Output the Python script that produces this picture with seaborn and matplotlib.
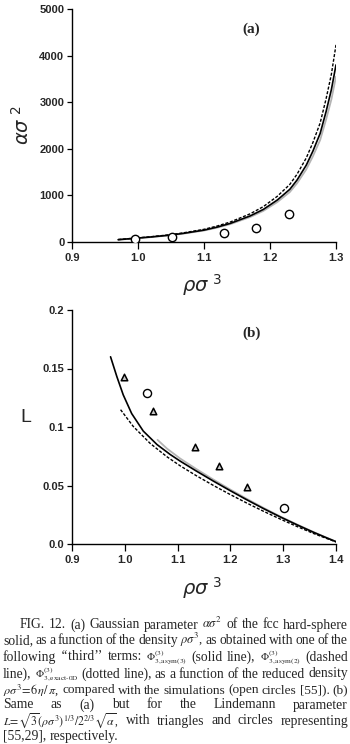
import matplotlib
matplotlib.use("Agg")
import matplotlib.pyplot as plt
import seaborn as sns
import pandas as pd

# ---------------- data: panel (a) ----------------
rho_a = [0.97, 1.0, 1.018, 1.05, 1.069, 1.1, 1.12, 1.14, 1.17, 1.19, 1.211, 1.23, 1.241,
         1.255, 1.265, 1.276, 1.285, 1.293, 1.3]
alpha_solid = [50, 85, 106, 150, 186, 255, 320, 400, 560, 700, 900, 1130, 1330,
               1650, 1950, 2330, 2800, 3270, 3800]
alpha_dashed = [52, 89, 111, 158, 197, 272, 343, 430, 605, 760, 980, 1235, 1455,
                1805, 2135, 2555, 3075, 3600, 4230]
alpha_dotted = [48, 82, 102, 145, 180, 246, 308, 384, 536, 668, 856, 1072, 1260,
                1560, 1840, 2190, 2630, 3060, 3550]
sim_rho_a = [0.996, 1.052, 1.131, 1.179, 1.229]
sim_alpha_a = [57, 100, 186, 300, 601]

# ---------------- data: panel (b) ----------------
rho_b_solid = [0.973, 0.985, 0.997, 1.013, 1.035, 1.061, 1.086, 1.105, 1.135, 1.168, 1.2,
               1.231, 1.263, 1.295, 1.327, 1.358, 1.38, 1.4]
L_solid = [0.160, 0.143, 0.1275, 0.1115, 0.0965, 0.085, 0.0765, 0.0708, 0.0625, 0.0537, 0.0455,
           0.0378, 0.0302, 0.023, 0.0162, 0.0099, 0.0057, 0.002]
rho_b_dashed = [0.992, 1.016, 1.048, 1.080, 1.105, 1.135, 1.168, 1.2, 1.231, 1.263, 1.295,
                1.327, 1.358, 1.38, 1.4]
L_dashed = [0.1148, 0.1005, 0.086, 0.0745, 0.0668, 0.0585, 0.05, 0.0422, 0.035, 0.0279,
            0.0212, 0.0148, 0.0089, 0.0051, 0.0018]
rho_b_dotted = [1.062, 1.08, 1.105, 1.135, 1.168, 1.2, 1.231, 1.263, 1.295, 1.327, 1.358, 1.38, 1.4]
L_dotted = [0.089, 0.0815, 0.073, 0.0642, 0.055, 0.0465, 0.0386, 0.0308, 0.0234, 0.0165,
            0.0101, 0.0058, 0.002]
tri_rho = [0.999, 1.054, 1.133, 1.179, 1.231]
tri_L = [0.143, 0.114, 0.083, 0.067, 0.0487]
circ_rho_b = [1.042, 1.301]
circ_L_b = [0.129, 0.031]

xticks_a = [0.9, 1.0, 1.1, 1.2, 1.3]
yticks_a = [0, 1000, 2000, 3000, 4000, 5000]
xticks_b = [0.9, 1.0, 1.1, 1.2, 1.3, 1.4]
yticks_b = [0.0, 0.05, 0.1, 0.15, 0.2]
yticklabels_b = ["0.0", "0.05", "0.1", "0.15", "0.2"]

caption_lines = [
    ["FIG.", "12.", "(a)", "Gaussian", "parameter", r"$\alpha\sigma^2$", "of", "the", "fcc", "hard-sphere"],
    ["solid,", "as", "a", "function", "of", "the", "density", r"$\rho\sigma^3$,", "as", "obtained", "with", "one", "of", "the"],
    ["following", "\u2018\u2018third\u2019\u2019", "terms:", r"$\Phi^{(3)}_{3,\mathrm{asym(3)}}$", "(solid", "line),",
     r"$\Phi^{(3)}_{3,\mathrm{asym(2)}}$", "(dashed"],
    ["line),", r"$\Phi^{(3)}_{3,\mathrm{exact\text{-}0D}}$", "(dotted", "line),", "as", "a", "function", "of", "the", "reduced", "density"],
    [r"$\rho\sigma^3\!=\!6\,\eta/\,\pi$,", "compared", "with", "the", "simulations", "(open", "circles", "[55]).", "(b)"],
    ["Same", "as", "(a)", "but", "for", "the", "Lindemann", "parameter"],
    [r"$L\!=\!\sqrt{3}(\rho\sigma^3)^{1/3}/2^{2/3}\sqrt{\alpha}$,", "with", "triangles", "and", "circles", "representing"],
    ["[55,29],", "respectively."],
]

sns.set_theme(style="ticks")
plt.rcParams["font.family"] = ["Liberation Sans", "DejaVu Sans"]

W, H = 350, 744
fig = plt.figure(figsize=(W / 100, H / 100), dpi=100)

def px_axes(left, top, right, bottom):
    return fig.add_axes([left / W, 1 - bottom / H, (right - left) / W, (bottom - top) / H])

axa = px_axes(72, 9, 336, 242)
axb = px_axes(72, 310, 336, 544)

grey = "#b4b4b4"
dash = (0, (2.2, 1.2))
dfa = pd.DataFrame({"rho": rho_a, "solid": alpha_solid, "dashed": alpha_dashed, "dotted": alpha_dotted})
sns.lineplot(data=dfa, x="rho", y="dotted", ax=axa, color=grey, lw=1.3, sort=False)
sns.lineplot(data=dfa, x="rho", y="solid", ax=axa, color="black", lw=1.2, sort=False)
sns.lineplot(data=dfa, x="rho", y="dashed", ax=axa, color="black", lw=1.0, ls=dash, sort=False)
sns.scatterplot(x=sim_rho_a, y=sim_alpha_a, ax=axa, marker="o", s=36, facecolor="white",
                edgecolor="black", linewidth=1.0, zorder=5)

sns.lineplot(x=rho_b_dotted, y=L_dotted, ax=axb, color=grey, lw=1.3, sort=False)
sns.lineplot(x=rho_b_solid, y=L_solid, ax=axb, color="black", lw=1.2, sort=False)
sns.lineplot(x=rho_b_dashed, y=L_dashed, ax=axb, color="black", lw=1.0, ls=dash, sort=False)
sns.scatterplot(x=tri_rho, y=tri_L, ax=axb, marker="^", s=22, facecolor="#c8c8c8",
                edgecolor="black", linewidth=1.1, zorder=5)
sns.scatterplot(x=circ_rho_b, y=circ_L_b, ax=axb, marker="o", s=34, facecolor="white",
                edgecolor="black", linewidth=1.0, zorder=5)

tickfont = dict(fontsize=8, fontweight="bold")
for ax, xt, yt, ytl, xlim, ylim, xly in [
    (axa, xticks_a, yticks_a, [str(v) for v in yticks_a], (0.9, 1.3), (0, 5000), -0.13),
    (axb, xticks_b, yticks_b, yticklabels_b, (0.9, 1.4), (0, 0.2), -0.135),
]:
    ax.set_xlim(*xlim)
    ax.set_ylim(*ylim)
    ax.set_xticks(xt)
    ax.set_xticklabels([f"{v:.1f}" for v in xt], **tickfont)
    ax.set_yticks(yt)
    ax.set_yticklabels(ytl, **tickfont)
    ax.tick_params(axis="x", direction="out", length=5, width=0.9, pad=3, color="black")
    ax.tick_params(axis="y", direction="out", length=3.5, width=0.9, pad=2, color="black")
    sns.despine(ax=ax)
    for s in ("left", "bottom"):
        ax.spines[s].set_linewidth(1.0)
        ax.spines[s].set_color("black")
    ax.set_facecolor("white")
    ax.set_xlabel(r"$\rho\sigma^{\ 3}$", fontsize=14, math_fontfamily="dejavusans")
    ax.xaxis.set_label_coords(0.49, xly)

axa.set_ylabel(r"$\alpha\sigma^{\ 2}$", fontsize=14, math_fontfamily="dejavusans")
axa.yaxis.set_label_coords(-0.15, 0.5)
axb.set_ylabel("L", fontsize=14, rotation=0, va="center")
axb.yaxis.set_label_coords(-0.175, 0.54)

serif = ["Liberation Serif", "DejaVu Serif"]
axa.text(0.68, 0.915, "(a)", transform=axa.transAxes, fontsize=11, fontweight="bold",
         family=serif, ha="center", va="center")
axb.text(0.68, 0.9, "(b)", transform=axb.transAxes, fontsize=11, fontweight="bold",
         family=serif, ha="center", va="center")

# --------- caption, justified ---------
renderer = fig.canvas.get_renderer()
baselines = [628.5, 644, 660.5, 677.5, 693.5, 708.5, 724.5, 740]
cap_size = 9.8
for i, (tokens, yb) in enumerate(zip(caption_lines, baselines)):
    x0 = 20 if i == 0 else 3
    x1 = 348
    size = cap_size
    while True:
        texts = []
        for t in tokens:
            is_math = t.startswith("$")
            if is_math and i in (2, 3):
                fs = size * 0.78
            elif is_math and i == 6:
                fs = size * 0.86
            elif is_math:
                fs = size * 0.92
            else:
                fs = size
            texts.append(fig.text(0, 1 - yb / H, t, fontsize=fs, family=serif, math_fontfamily="stix",
                                  ha="left", va="baseline"))
        widths = [t.get_window_extent(renderer).width for t in texts]
        if i < len(caption_lines) - 1:
            gap = (x1 - x0 - sum(widths)) / (len(texts) - 1)
        else:
            gap = 3.0
        if gap >= 2.0 or size < 7:
            break
        for t in texts:
            t.remove()
        size -= 0.2
    x = x0
    for t, w in zip(texts, widths):
        t.set_x(x / W)
        x += w + gap

fig.savefig("out.png", dpi=100, facecolor="white")
